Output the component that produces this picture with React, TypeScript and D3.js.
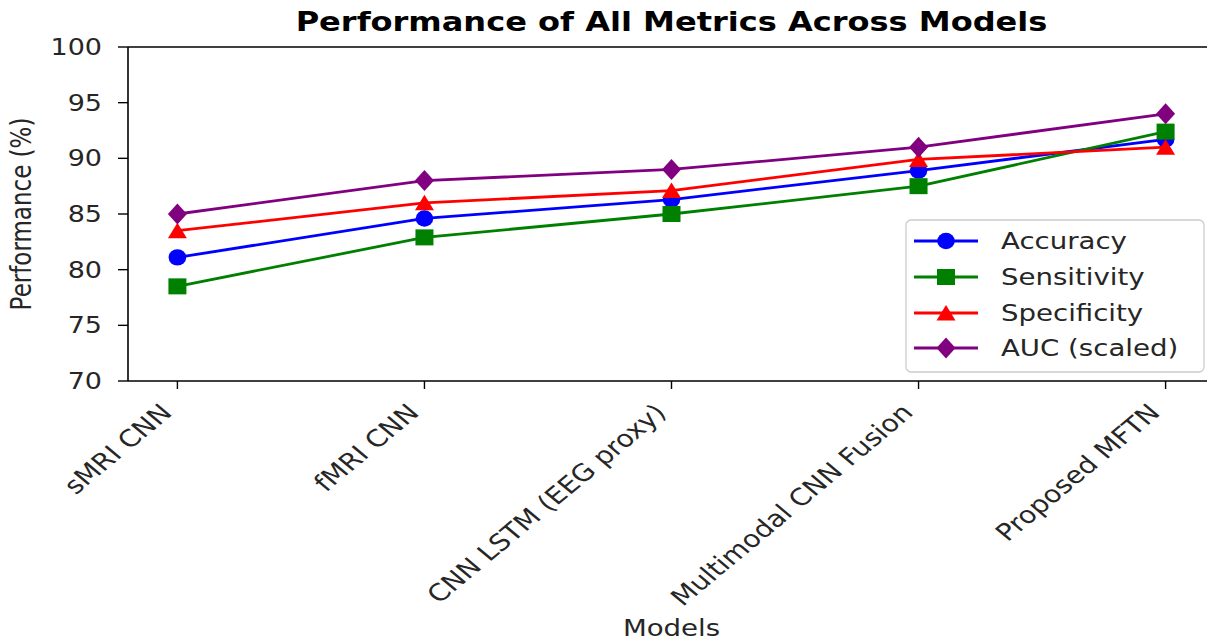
import React from "react";
import * as d3 from "d3";

const models = ["sMRI CNN", "fMRI CNN", "CNN LSTM (EEG proxy)", "Multimodal CNN Fusion", "Proposed MFTN"];
const accuracy = [81.1, 84.6, 86.3, 88.9, 91.7];
const sensitivity = [78.5, 82.9, 85.0, 87.5, 92.4];
const specificity = [83.5, 86.0, 87.1, 89.9, 91.0];
const aucScaled = [85.0, 88.0, 89.0, 91.0, 94.0];
const yTicks = [70, 75, 80, 85, 90, 95, 100];
const seriesNames = ["Accuracy", "Sensitivity", "Specificity", "AUC (scaled)"];
const seriesColors = ["#0000ff", "#008000", "#ff0000", "#800080"];
const seriesMarkers = ["circle", "square", "triangle", "diamond"];

const W = 1207;
const H = 640;
const left = 128, right = 1215, top = 47, bottom = 381;
const SX = 1.2;
const FONT = "DejaVu Sans, sans-serif";

function Marker({ type, x, y, color }: { type: string; x: number; y: number; color: string }) {
  if (type === "circle") return <ellipse cx={x} cy={y} rx={8.8} ry={8.2} fill={color} />;
  if (type === "square") return <rect x={x - 9} y={y - 8} width={18} height={16} fill={color} />;
  if (type === "triangle")
    return <path d={`M${x},${y - 8} L${x - 9.5},${y + 7.5} L${x + 9.5},${y + 7.5} Z`} fill={color} />;
  return <path d={`M${x},${y - 10.5} L${x + 9.5},${y} L${x},${y + 10.5} L${x - 9.5},${y} Z`} fill={color} />;
}

export default function App() {
  const x = d3.scalePoint<string>().domain(models).range([left, right]).padding(0.2);
  const y = d3.scaleLinear().domain([70, 100]).range([bottom, top]);
  const data = [accuracy, sensitivity, specificity, aucScaled];
  const line = d3
    .line<number>()
    .x((_, i) => x(models[i]) as number)
    .y((v) => y(v));

  const legendRows = [241, 277, 313, 348];

  return (
    <svg
      width={W}
      height={H}
      style={{ position: "absolute", left: 0, top: 0, background: "#fff" }}
      fontFamily={FONT}
    >
      <rect x={0} y={0} width={W} height={H} fill="#fff" />
      <text
        transform={`translate(${(left + right) / 2},31) scale(${SX},1)`}
        textAnchor="middle"
        fontSize={26.7}
        fontWeight="bold"
        fill="#000"
      >
        Performance of All Metrics Across Models
      </text>

      {data.map((vals, si) => (
        <g key={si}>
          <path d={line(vals) as string} fill="none" stroke={seriesColors[si]} strokeWidth={2.8} strokeLinejoin="round" />
          {vals.map((v, i) => (
            <Marker key={i} type={seriesMarkers[si]} x={x(models[i]) as number} y={y(v)} color={seriesColors[si]} />
          ))}
        </g>
      ))}

      <line x1={left} x2={left} y1={top} y2={bottom} stroke="#000" strokeWidth={1.6} />
      <line x1={left} x2={right} y1={bottom} y2={bottom} stroke="#000" strokeWidth={1.6} />
      <line x1={left} x2={right} y1={top} y2={top} stroke="#000" strokeWidth={1.6} />
      <line x1={right} x2={right} y1={top} y2={bottom} stroke="#000" strokeWidth={1.6} />

      {yTicks.map((t) => (
        <g key={t}>
          <line x1={left - 10} x2={left} y1={y(t)} y2={y(t)} stroke="#000" strokeWidth={1.4} />
          <text
            transform={`translate(102,${y(t)}) scale(${SX},1)`}
            textAnchor="end"
            dy="0.36em"
            fontSize={22.5}
            fill="#262626"
          >
            {t}
          </text>
        </g>
      ))}

      {models.map((m) => {
        const px = x(m) as number;
        return (
          <g key={m}>
            <line x1={px} x2={px} y1={bottom} y2={bottom + 8} stroke="#000" strokeWidth={1.4} />
            <text
              transform={`translate(${px - 4},414) scale(${SX},1) rotate(-45)`}
              textAnchor="end"
              fontSize={23.6}
              fill="#262626"
            >
              {m}
            </text>
          </g>
        );
      })}

      <text
        transform={`translate(${(left + right) / 2},636) scale(${SX},1)`}
        textAnchor="middle"
        fontSize={23}
        fill="#262626"
      >
        Models
      </text>
      <text
        transform={`translate(31,${(top + bottom) / 2}) scale(${SX},1) rotate(-90)`}
        textAnchor="middle"
        fontSize={23}
        fill="#262626"
      >
        Performance (%)
      </text>

      <rect x={906} y={220} width={298} height={152} rx={5} fill="#fff" fillOpacity={0.8} stroke="#cccccc" strokeWidth={1.3} />
      {seriesNames.map((n, i) => (
        <g key={n}>
          <line x1={914} x2={978} y1={legendRows[i]} y2={legendRows[i]} stroke={seriesColors[i]} strokeWidth={2.8} />
          <Marker type={seriesMarkers[i]} x={946} y={legendRows[i]} color={seriesColors[i]} />
          <text
            transform={`translate(1001,${legendRows[i]}) scale(${SX},1)`}
            dy="0.36em"
            fontSize={23}
            fill="#262626"
          >
            {n}
          </text>
        </g>
      ))}
    </svg>
  );
}
